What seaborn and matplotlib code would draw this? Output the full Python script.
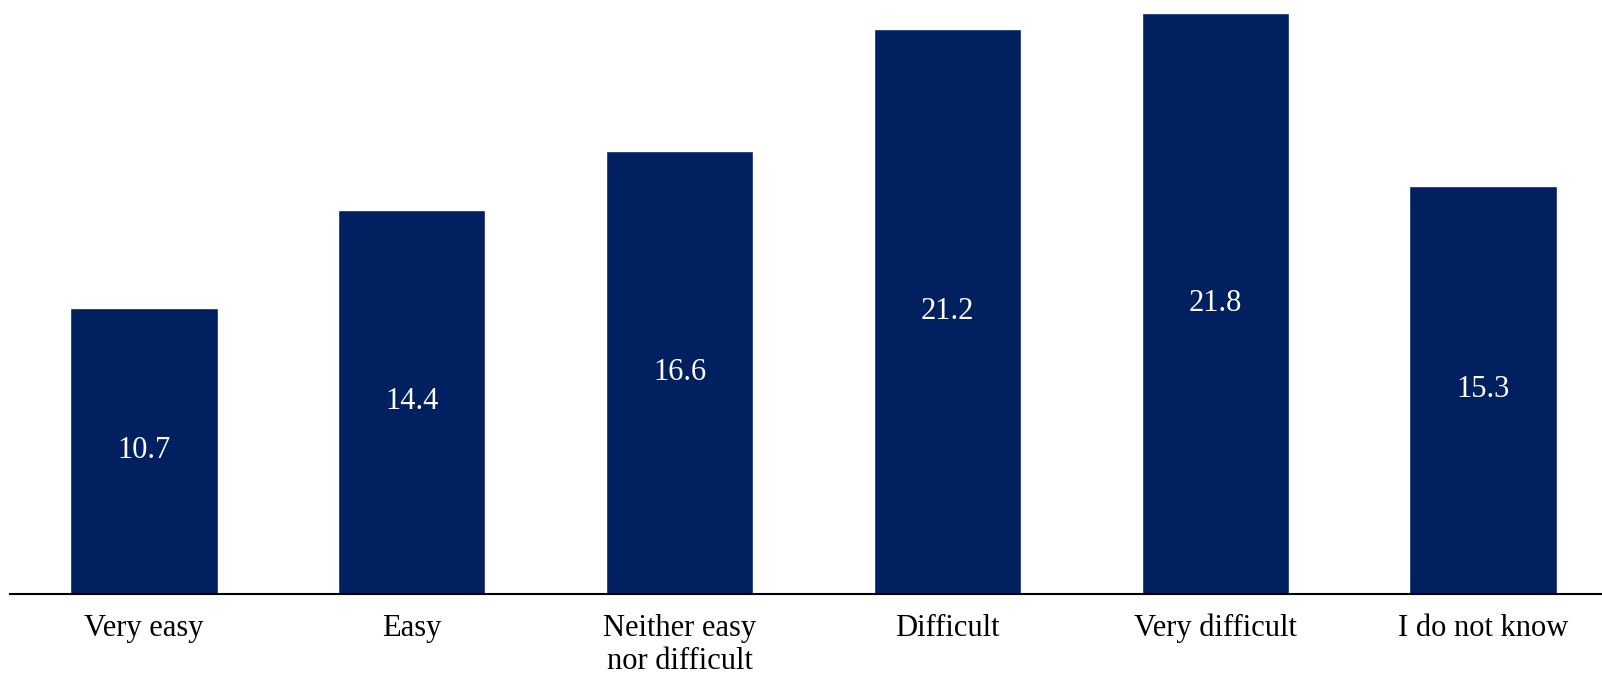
import matplotlib
matplotlib.use("Agg")
import matplotlib.pyplot as plt
import seaborn as sns
import pandas as pd

categories = ["Very easy", "Easy", "Neither easy\nnor difficult", "Difficult",
              "Very difficult", "I do not know"]
values = [10.7, 14.4, 16.6, 21.2, 21.8, 15.3]

df = pd.DataFrame({"answer": categories, "share": values})

sns.set_theme(style="white")
plt.rcParams["font.family"] = ["Liberation Serif", "DejaVu Serif"]

fig = plt.figure(figsize=(16.02, 6.77), dpi=100)
ax = fig.add_axes([10 / 1602, 83.5 / 677, 1 - 10 / 1602, 593.5 / 677])

sns.barplot(data=df, x="answer", y="share", color="#002060", saturation=1,
            width=0.55, ax=ax)

for patch, v in zip(ax.patches, values):
    ax.text(patch.get_x() + patch.get_width() / 2, v / 2, f"{v:.1f}",
            ha="center", va="center", color="white", fontsize=22)

ax.set_xlim(-0.5, 5.444)
ax.set_ylim(0, 22.27)
ax.set_xlabel("")
ax.set_ylabel("")
ax.set_yticks([])
ax.tick_params(axis="x", length=0, pad=14.5, labelsize=22, colors="black")
for lbl in ax.get_xticklabels():
    lbl.set_linespacing(1.2)
for side in ["left", "right", "top"]:
    ax.spines[side].set_visible(False)
ax.spines["bottom"].set_color("black")
ax.spines["bottom"].set_linewidth(1.5)

fig.savefig("out.png", dpi=100)
